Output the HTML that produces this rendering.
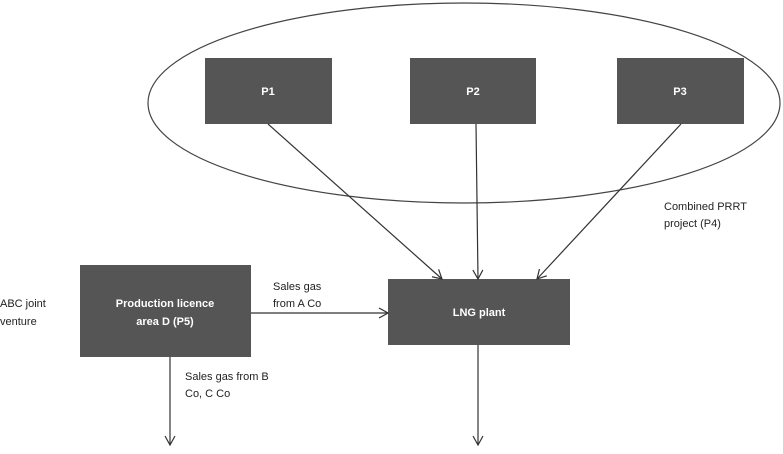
<!DOCTYPE html>
<html><head><style>body{margin:0;background:#fff}</style></head><body>
<svg width="783" height="449" xmlns="http://www.w3.org/2000/svg" font-family="Liberation Sans, sans-serif" font-size="11">
<defs><marker id="a" markerWidth="12" markerHeight="12" refX="10" refY="6" orient="auto" markerUnits="userSpaceOnUse"><path d="M1,1 L10,6 L1,11" fill="none" stroke="#333" stroke-width="1.2"/></marker></defs>
<ellipse cx="464" cy="103" rx="316" ry="100" fill="none" stroke="#444" stroke-width="1.2"/>
<g fill="#555">
<rect x="205" y="58" width="127" height="66"/>
<rect x="410" y="58" width="126" height="66"/>
<rect x="617" y="58" width="127" height="66"/>
<rect x="388" y="279" width="182" height="66"/>
<rect x="80" y="265" width="171" height="92"/>
</g>
<g stroke="#333" stroke-width="1.2" marker-end="url(#a)">
<line x1="268" y1="124" x2="442" y2="279"/>
<line x1="476" y1="124" x2="478" y2="279"/>
<line x1="681" y1="124" x2="537" y2="279"/>
<line x1="251" y1="313" x2="388" y2="313"/>
<line x1="170" y1="357" x2="170" y2="445"/>
<line x1="478" y1="345" x2="478" y2="445"/>
</g>
<g fill="#fff" text-anchor="middle" font-weight="bold">
<text x="268" y="95">P1</text>
<text x="473" y="95">P2</text>
<text x="680" y="95">P3</text>
<text x="479" y="316">LNG plant</text>
<text x="165" y="307">Production licence</text>
<text x="165" y="325">area D (P5)</text>
</g>
<g fill="#222">
<text x="0" y="307">ABC joint</text>
<text x="0" y="325">venture</text>
<text x="273" y="290">Sales gas</text>
<text x="273" y="307">from A Co</text>
<text x="185" y="380">Sales gas from B</text>
<text x="185" y="397">Co, C Co</text>
<text x="664" y="210">Combined PRRT</text>
<text x="664" y="227">project (P4)</text>
</g>
</svg>
</body></html>
